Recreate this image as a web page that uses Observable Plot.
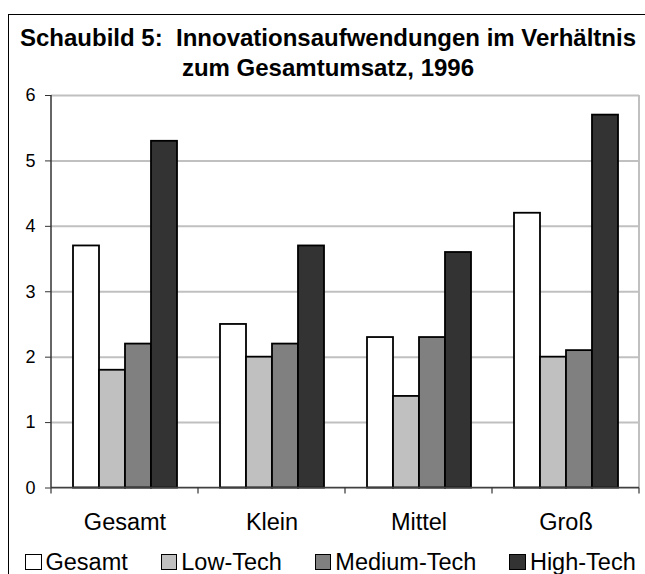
<!DOCTYPE html>
<html><head><meta charset="utf-8">
<script src="https://cdn.jsdelivr.net/npm/d3@7"></script>
<script src="https://cdn.jsdelivr.net/npm/@observablehq/plot@0.6"></script>
<style>
body{margin:0;background:#fff;font-family:"Liberation Sans",Arial,sans-serif;width:645px;height:574px;overflow:hidden;position:relative;}
#frame{position:absolute;left:8px;top:14px;width:640px;height:600px;border:1px solid #000;box-sizing:border-box;}
#title{position:absolute;left:8px;top:23px;width:640px;text-align:center;font-weight:bold;font-size:24px;line-height:30px;color:#000;}
#chart{position:absolute;left:0;top:80px;}
#legend{position:absolute;left:25px;top:549px;display:flex;align-items:center;font-size:23.5px;line-height:26px;color:#000;}
.item{display:flex;align-items:center;margin-right:33px;}
.sw{width:14.5px;height:14.5px;border:1.8px solid #000;margin-right:4px;}
</style></head>
<body>
<div id="frame"></div>
<div id="title">Schaubild 5:&nbsp; Innovationsaufwendungen im Verhältnis<br>zum Gesamtumsatz, 1996</div>
<div id="chart"></div>
<div id="legend"></div>
<script>
const groups = ["Gesamt", "Klein", "Mittel", "Groß"];
const series = ["Gesamt", "Low-Tech", "Medium-Tech", "High-Tech"];
const valuesGesamt = [3.7, 2.5, 2.3, 4.2];
const valuesLowTech = [1.8, 2.0, 1.4, 2.0];
const valuesMediumTech = [2.2, 2.2, 2.3, 2.1];
const valuesHighTech = [5.3, 3.7, 3.6, 5.7];
const colors = ["#ffffff", "#c0c0c0", "#808080", "#333333"];
const yTicks = [0, 1, 2, 3, 4, 5, 6];

const seriesValues = [valuesGesamt, valuesLowTech, valuesMediumTech, valuesHighTech];
const data = groups.flatMap((g, i) => series.map((s, j) => ({group: g, series: s, value: seriesValues[j][i]})));

const plot = Plot.plot({
  width: 645, height: 460,
  marginLeft: 50, marginRight: 5, marginTop: 15, marginBottom: 52.5,
  style: {fontFamily: '"Liberation Sans", Arial, sans-serif', fontSize: "18px", color: "#000", background: "transparent"},
  fx: {domain: groups, padding: 0, axis: null, label: null},
  x: {domain: series, paddingInner: 0, paddingOuter: 0.73, axis: null},
  y: {domain: [0, 6], axis: null, label: null},
  color: {domain: series, range: colors},
  marks: [
    Plot.gridY(yTicks, {stroke: "#c0c0c0", strokeOpacity: 1, strokeWidth: 2}),
    Plot.barY(data, {fx: "group", x: "series", y: "value", fill: "series", stroke: "#000", strokeWidth: 1.8}),
    Plot.axisY(yTicks, {anchor: "left", tickSize: 6, tickPadding: 10, stroke: "#333", fontSize: 18, tickFormat: d3.format("d")}),
    Plot.axisFx({anchor: "bottom", tickSize: 0, tickPadding: 25, fontSize: 23.5, label: null})
  ]
});
document.getElementById("chart").appendChild(plot);

// axis lines and category boundary ticks via the plot's scales
const fx = plot.scale("fx"), ys = plot.scale("y");
const svg = d3.select(plot);
const y0 = ys.apply(0), y6 = ys.apply(6);
const x0 = fx.apply(groups[0]);
const xEnd = fx.apply(groups[groups.length - 1]) + fx.bandwidth;
const g = svg.append("g");
g.append("line").attr("x1", xEnd).attr("x2", xEnd).attr("y1", y6).attr("y2", y0).attr("stroke", "#c0c0c0").attr("stroke-width", 2);
g.append("line").attr("x1", x0).attr("x2", xEnd).attr("y1", y0).attr("y2", y0).attr("stroke", "#404040").attr("stroke-width", 1.5);
g.append("line").attr("x1", x0).attr("x2", x0).attr("y1", y6).attr("y2", y0).attr("stroke", "#333").attr("stroke-width", 1.5);
const bounds = groups.map(d => fx.apply(d)).concat([xEnd]);
g.selectAll(".bt").data(bounds).join("line").attr("x1", d => d).attr("x2", d => d)
  .attr("y1", y0).attr("y2", y0 + 6).attr("stroke", "#333").attr("stroke-width", 1.2);

const legend = d3.select("#legend");
series.forEach((s, j) => {
  const it = legend.append("div").attr("class", "item");
  if (j === series.length - 1) it.style("margin-right", "0px");
  it.append("div").attr("class", "sw").style("background", colors[j]);
  it.append("span").text(s);
});
</script>
</body></html>
